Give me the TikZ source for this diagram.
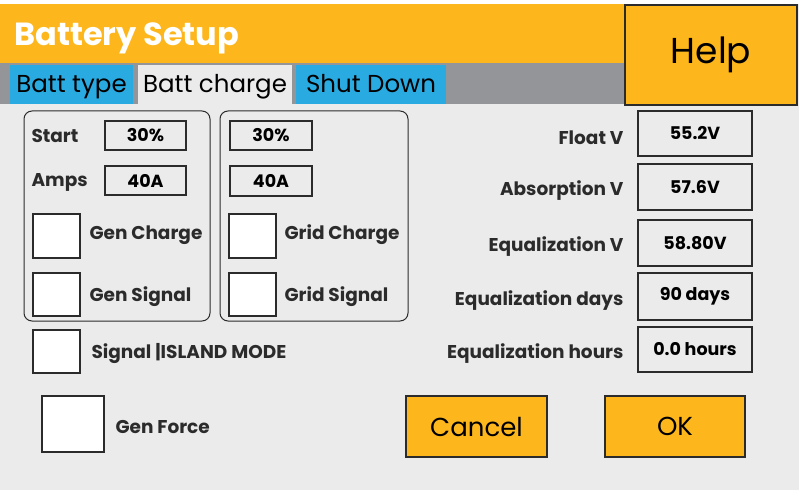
\documentclass[tikz,border=0pt]{standalone}
\usepackage{fontspec}
\setmainfont{Poppins}
\begin{document}
\definecolor{org}{HTML}{FDB71D}
\definecolor{bg}{HTML}{EBEBEB}
\definecolor{tabgray}{HTML}{939598}
\definecolor{tabblue}{HTML}{29ABE2}
\definecolor{dk}{HTML}{2B2B2B}
\begin{tikzpicture}[x=1pt,y=-1pt,
  fld/.style={draw=dk,line width=1.2pt,fill=bg,font=\fontsize{17.5}{17.5}\selectfont\bfseries},
  lbl/.style={font=\fontsize{18.5}{18.5}\selectfont\bfseries,text=dk},
  chk/.style={draw=dk,line width=1.2pt,fill=white},
  btn/.style={draw=dk,line width=1.8pt,fill=org,font=\fontsize{26}{26}\selectfont},
  tab/.style={font=\fontsize{24.5}{24.5}\selectfont,text=black,anchor=base}]
\fill[white] (0,0) rectangle (799,502);
\fill[bg] (0,4) rectangle (799,490);
\fill[org] (0,4) rectangle (625,63);
\fill[tabgray] (0,63) rectangle (625,104);
\node[anchor=base west,inner sep=0pt,text=white,font=\fontsize{32}{32}\selectfont\bfseries] (title) at (14,46) {Battery Setup};
\fill[tabblue] (10,65) rectangle (133,104);
\fill[bg] (138,65) rectangle (292,104);
\fill[tabblue] (296,65) rectangle (446,104);
\node[tab] (t1) at (71.5,93) {Batt type};
\node[tab] (t2) at (215,93) {Batt charge};
\node[tab] (t3) at (371,93) {Shut Down};
\node[btn,minimum width=172pt,minimum height=100pt,font=\fontsize{36}{36}\selectfont] (help) at (711,55) {Help};
\draw[dk,line width=1pt,rounded corners=8pt] (24,111) rectangle (210,321);
\draw[dk,line width=1pt,rounded corners=8pt] (220,111) rectangle (408,321);
\node[lbl,anchor=west] (ls) at (28,136) {Start};
\node[fld,minimum width=81pt,minimum height=29pt] (f1) at (145.5,135.5) {30\%};
\node[lbl,anchor=west] (la) at (28,182) {Amps};
\node[fld,minimum width=81pt,minimum height=29pt] (f2) at (145.5,180.5) {40A};
\node[chk,minimum width=47pt,minimum height=44pt] (c1) at (56.5,236) {};
\node[lbl,anchor=west] (l1) at (86,235) {Gen Charge};
\node[chk,minimum width=47pt,minimum height=43pt] (c2) at (56.5,294.5) {};
\node[lbl,anchor=west] (l2) at (86,297) {Gen Signal};
\node[fld,minimum width=82pt,minimum height=29pt] (f3) at (271,135.5) {30\%};
\node[fld,minimum width=82pt,minimum height=30pt] (f4) at (271,181) {40A};
\node[chk,minimum width=47pt,minimum height=44pt] (c3) at (252.5,236) {};
\node[lbl,anchor=west] (l3) at (281,235) {Grid Charge};
\node[chk,minimum width=47pt,minimum height=43pt] (c4) at (252.5,294.5) {};
\node[lbl,anchor=west] (l4) at (281,297) {Grid Signal};
\node[chk,minimum width=47pt,minimum height=43pt] (c5) at (56.5,351.5) {};
\node[lbl,anchor=west] (l5) at (88,354) {Signal |ISLAND MODE};
\node[chk,minimum width=62pt,minimum height=56pt] (c6) at (73,424) {};
\node[lbl,anchor=west] (l6) at (112,427) {Gen Force};
\foreach \n/\t/\v/\y/\h in {r1/Float V/55.2V/133.5/45, r2/Absorption V/57.6V/187/46, r3/Equalization V/58.80V/243/46, r4/Equalization days/90 days/296.5/47, r5/Equalization hours/0.0 hours/349.5/45}{
  \node[lbl,anchor=east] (l\n) at (627,\y+4) {\t};
  \node[fld,minimum width=114pt,minimum height=\h pt] (\n) at (695,\y) {\v};
}
\node[btn,minimum width=141pt,minimum height=61pt] (cancel) at (476.5,426.5) {Cancel};
\node[btn,minimum width=140pt,minimum height=61pt] (ok) at (675,426.5) {OK};
\end{tikzpicture}
\end{document}
